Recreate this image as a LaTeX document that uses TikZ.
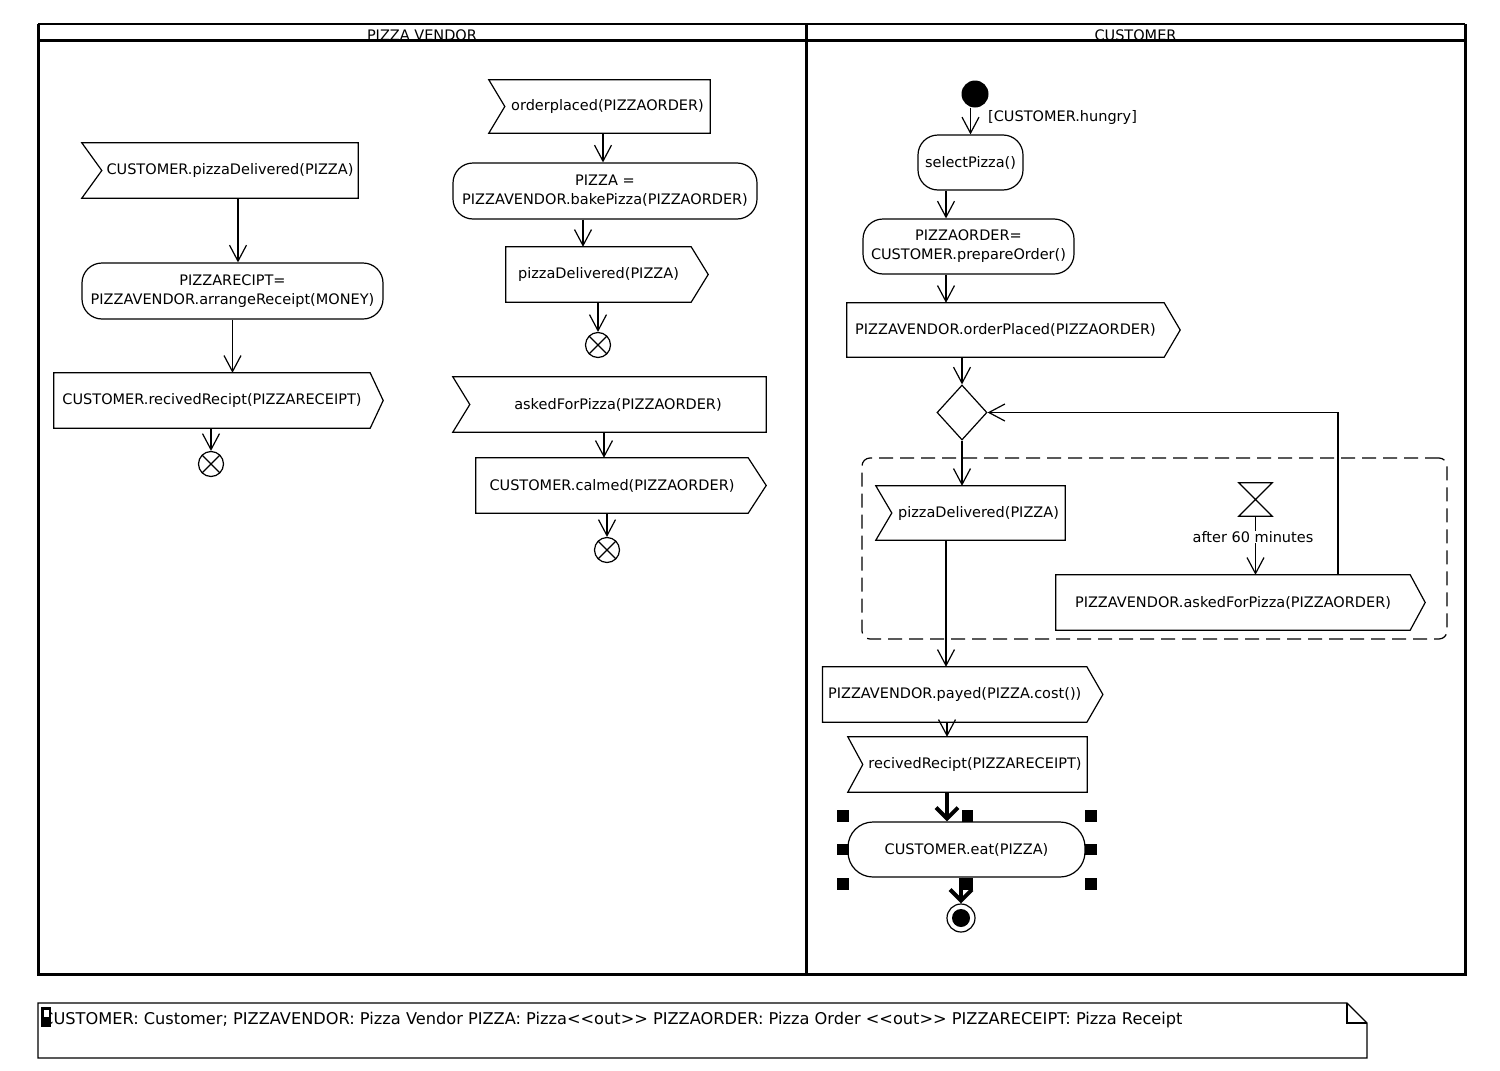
\documentclass[tikz,border=0pt]{standalone}
\usepackage{fontspec}
\setmainfont{DejaVu Sans}
\usetikzlibrary{arrows.meta,calc,shapes.geometric}

% outline of an accept-event action: notch cut into the west side
\newcommand\acceptoutline[2]{%
  \draw[outline] ([xshift=-#2pt]#1.north west) -- (#1.north east) -- (#1.south east)
    -- ([xshift=-#2pt]#1.south west) -- (#1.west) -- cycle;}
% outline of a send-signal action: point on the east side
\newcommand\sendoutline[2]{%
  \draw[outline] (#1.north west) -- (#1.north east) -- ([xshift=#2pt]#1.east)
    -- (#1.south east) -- (#1.south west) -- cycle;}

\begin{document}
\begin{tikzpicture}[x=1pt,y=-1pt,
  every node/.style={font=\fontsize{14.5}{19}\selectfont, inner sep=0pt, align=center},
  flow/.style={line width=1.2pt, -{Straight Barb[length=16pt,width=17pt]}},
  heavy/.style={line width=4pt, -{Straight Barb[length=11pt,width=22pt]}},
  body/.style={rectangle, minimum height=55pt},
  act/.style={rectangle, rounded corners=20pt, draw, line width=1.2pt, minimum height=56pt},
  outline/.style={line width=1.2pt, line join=miter},
  lane/.style={line width=3pt},
  flowend/.style={circle, draw, line width=1.2pt, minimum size=25pt, fill=white,
    path picture={\draw[line width=1.2pt]
      (path picture bounding box.north west) -- (path picture bounding box.south east)
      (path picture bounding box.north east) -- (path picture bounding box.south west);}},
  handle/.style={fill=black},
]
\useasboundingbox (0,0) rectangle (1500,1071);

% ---------- swimlanes ----------
\node[anchor=base] (hVendor) at (422,40) {PIZZA VENDOR};
\node[anchor=base] (hCustomer) at (1135.5,40) {CUSTOMER};
\draw[line width=2.2pt] (38,24) -- (1465,24);
\draw[lane] (38,24) -- (38,974) -- (1465,974) -- (1465,24);
\draw[lane] (38,40) -- (1465,40);
\draw[lane] (806,24) -- (806,974);

% ---------- PIZZA VENDOR: receipt handling ----------
\node[body, minimum width=256pt] (vRecvPizza) at (230,170.5) {CUSTOMER.pizzaDelivered(PIZZA)};
\acceptoutline{vRecvPizza}{20}
\node[act, minimum width=301pt] (vArrange) at (232.5,291) {PIZZARECIPT=\\PIZZAVENDOR.arrangeReceipt(MONEY)};
\node[body, minimum width=316pt] (vSendRecipt) at (212,400.5) {CUSTOMER.recivedRecipt(PIZZARECEIPT)};
\sendoutline{vSendRecipt}{13}
\node[flowend] (vEnd1) at (211,464) {};

\draw[flow] ([xshift=8]vRecvPizza.south) -- ([xshift=8]vRecvPizza.south |- vArrange.north);
\draw[flow] (vArrange.south) -- (vArrange.south |- vSendRecipt.north);
\draw[flow] (vSendRecipt.south -| vEnd1) -- (vEnd1.north);

% ---------- PIZZA VENDOR: order handling ----------
\node[body, minimum width=205pt, minimum height=53pt] (vOrderIn) at (607.5,106.5) {orderplaced(PIZZAORDER)};
\acceptoutline{vOrderIn}{16}
\node[act, minimum width=304pt] (vBake) at (605,191) {PIZZA =\\PIZZAVENDOR.bakePizza(PIZZAORDER)};
\node[body, minimum width=185pt] (vDeliverOut) at (598.5,274.5) {pizzaDelivered(PIZZA)};
\sendoutline{vDeliverOut}{17}
\node[flowend] (vEnd2) at (598,345) {};

\draw[flow] ([xshift=-4.5]vOrderIn.south) -- ([xshift=-4.5]vOrderIn.south |- vBake.north);
\draw[flow] ([xshift=-22]vBake.south) -- ([xshift=-22]vBake.south |- vDeliverOut.north);
\draw[flow] (vDeliverOut.south -| vEnd2) -- (vEnd2.north);

% ---------- PIZZA VENDOR: reminder handling ----------
\node[body, minimum width=296pt] (vAskedIn) at (618,404.5) {askedForPizza(PIZZAORDER)};
\acceptoutline{vAskedIn}{17}
\node[body, minimum width=272pt] (vCalmOut) at (612,485.5) {CUSTOMER.calmed(PIZZAORDER)};
\sendoutline{vCalmOut}{18}
\node[flowend] (vEnd3) at (607,550) {};

\draw[flow] ([xshift=-14]vAskedIn.south) -- ([xshift=-14]vAskedIn.south |- vCalmOut.north);
\draw[flow] (vCalmOut.south -| vEnd3) -- (vEnd3.north);

% ---------- CUSTOMER ----------
\node[circle, fill, minimum size=27pt] (cStart) at (975,94) {};
\node[anchor=west] (cGuard) at (988,117) {[CUSTOMER.hungry]};
\node[act, minimum width=105pt, minimum height=55pt] (cSelect) at (970.5,162.5) {selectPizza()};
\node[act, minimum width=211pt, minimum height=55pt] (cPrepare) at (968.5,246.5) {PIZZAORDER=\\CUSTOMER.prepareOrder()};
\node[body, minimum width=317pt, minimum height=54pt] (cOrderOut) at (1005.5,330) {PIZZAVENDOR.orderPlaced(PIZZAORDER)};
\sendoutline{cOrderOut}{16}
\node[diamond, draw, line width=1.2pt, minimum width=50pt, minimum height=55pt] (cMerge) at (962,412.5) {};

\draw[flow] (cStart.south -| cSelect) -- (cSelect.north);
\draw[flow] ([xshift=-24.5]cSelect.south) -- ([xshift=-24.5]cSelect.south |- cPrepare.north);
\draw[flow] ([xshift=-22.5]cPrepare.south) -- ([xshift=-22.5]cPrepare.south |- cOrderOut.north);
\draw[flow] (cOrderOut.south -| cMerge) -- (cMerge.north);

% interruptible region
\node[draw, line width=1.2pt, dash pattern=on 14pt off 7pt, rounded corners=8pt,
      minimum width=585pt, minimum height=181pt] (cRegion) at (1154.5,548.5) {};

\node[body, minimum width=173pt, minimum height=54pt] (cDeliverIn) at (978.5,513) {pizzaDelivered(PIZZA)};
\acceptoutline{cDeliverIn}{16}
\node[minimum width=33pt, minimum height=33pt] (cTimer) at (1255.5,499.5) {};
\draw[outline] (cTimer.north west) -- (cTimer.north east) -- (cTimer.south west) -- (cTimer.south east) -- cycle;
\node (cAfter) at (1253,537) {after 60 minutes};
\node[body, minimum width=354pt] (cAskOut) at (1233,602.5) {PIZZAVENDOR.askedForPizza(PIZZAORDER)};
\sendoutline{cAskOut}{15}

\draw[flow] (cMerge.south) -- (cMerge.south |- cDeliverIn.north);
\draw[line width=1.2pt] (cTimer.south) -- (cTimer.south |- cAfter.north);
\draw[flow] (cTimer.south |- cAfter.south) -- (cTimer.south |- cAskOut.north);
\draw[flow] ([xshift=105]cAskOut.north) |- (cMerge.east);

\node[body, minimum width=264pt] (cPay) at (954.7,694.5) {PIZZAVENDOR.payed(PIZZA.cost())};
\sendoutline{cPay}{16}
\node[body, minimum width=224pt] (cReciptIn) at (975,764.5) {recivedRecipt(PIZZARECEIPT)};
\acceptoutline{cReciptIn}{15}
\node[act, rounded corners=25pt, minimum width=237pt, minimum height=55pt] (cEat) at (966.5,849.5) {CUSTOMER.eat(PIZZA)};
\node[circle, draw, line width=1.2pt, minimum size=28pt] (cFinal) at (961,918) {};
\fill (cFinal.center) circle (9);

\draw[flow] ([xshift=-32.5]cDeliverIn.south) -- ([xshift=-32.5]cDeliverIn.south |- cPay.north);
\draw[flow] ([xshift=-7.7]cPay.south) -- ([xshift=-7.7]cPay.south |- cReciptIn.north);
\draw[heavy] ([xshift=-28]cReciptIn.south) -- ([xshift=-28]cReciptIn.south |- cEat.north);
\draw[heavy] (cEat.south -| cFinal) -- (cFinal.north);

% selection handles around the eat action
\foreach \hx/\hy in {843/816, 967.5/816, 1091/816, 843/849.5, 1091/849.5, 843/884, 967.5/884, 1091/884}
  \fill[handle] (\hx-5.75,\hy-5.75) rectangle ++(11.5,11.5);

% ---------- note ----------
\draw[outline] (38,1003) -- (1347,1003) -- (1367,1023) -- (1367,1058) -- (38,1058) -- cycle;
\draw[outline] (1347,1003) -- (1347,1023) -- (1367,1023);
\node[anchor=base west, font=\fontsize{16.2}{19}\selectfont] (noteText) at (42,1024)
  {CUSTOMER: Customer; PIZZAVENDOR: Pizza Vendor PIZZA: Pizza<{}<out>{}> PIZZAORDER: Pizza Order <{}<out>{}> PIZZARECEIPT: Pizza Receipt};
\fill (41,1007) rectangle (51,1027);
\fill[white] (43.5,1010) rectangle (48.5,1017);
\end{tikzpicture}
\end{document}
